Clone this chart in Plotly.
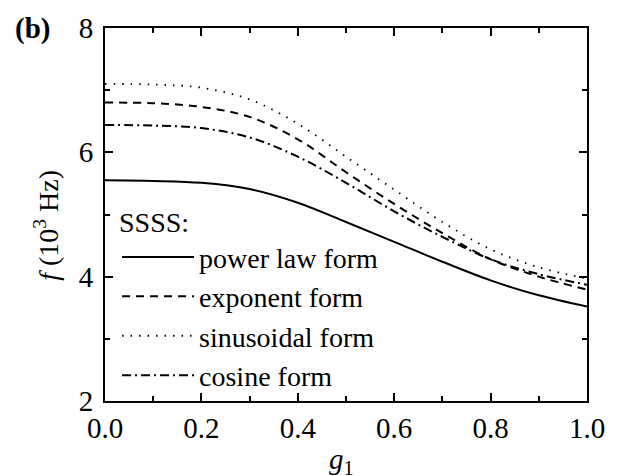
import plotly.graph_objects as go

g1 = [0.0, 0.1, 0.2, 0.3, 0.4, 0.5, 0.6, 0.7, 0.8, 0.9, 1.0]
power_law = [5.55, 5.54, 5.51, 5.41, 5.19, 4.88, 4.56, 4.24, 3.94, 3.70, 3.52]
exponent = [6.80, 6.79, 6.73, 6.57, 6.21, 5.68, 5.17, 4.70, 4.28, 4.00, 3.79]
sinusoidal = [7.10, 7.09, 7.04, 6.85, 6.46, 5.93, 5.40, 4.88, 4.44, 4.15, 3.97]
cosine = [6.44, 6.43, 6.39, 6.24, 5.93, 5.51, 5.05, 4.64, 4.28, 4.04, 3.87]

series = [
    ("power law form", power_law, "solid", 2),
    ("exponent form", exponent, "8px,6px", 2),
    ("sinusoidal form", sinusoidal, "1.5px,7px", 1.8),
    ("cosine form", cosine, "9px,4px,2px,4px", 2),
]

FONT = "Times New Roman, Liberation Serif, DejaVu Serif, serif"
fig = go.Figure()
for name, ys, dash, w in series:
    fig.add_trace(go.Scatter(x=g1, y=ys, mode="lines", name=name,
                             line=dict(color="black", width=w, dash=dash, shape="spline", smoothing=1.0)))

axis_common = dict(showline=True, linecolor="black", linewidth=2, mirror="ticks",
                   ticks="inside", ticklen=8, tickwidth=1.5, tickcolor="black",
                   showgrid=False, zeroline=False,
                   tickfont=dict(family=FONT, size=29, color="black"))

fig.update_xaxes(range=[0, 1], dtick=0.2, tickformat=".1f",
                 minor=dict(dtick=0.1, ticks="inside", ticklen=5, tickwidth=1.5, tickcolor="black"),
                 **axis_common)
fig.update_yaxes(range=[2, 8], dtick=2, ticklabelstandoff=4,
                 minor=dict(dtick=1, ticks="inside", ticklen=5, tickwidth=1.5, tickcolor="black"),
                 **axis_common)

fig.update_layout(
    width=635, height=476,
    margin=dict(l=105, r=48, t=20, b=75),
    paper_bgcolor="white", plot_bgcolor="white",
    font=dict(family=FONT, size=29, color="black"),
    showlegend=True,
    legend=dict(x=0.025, y=0.55, xanchor="left", yanchor="top",
                bgcolor="rgba(0,0,0,0)", borderwidth=0,
                title=dict(text="SSSS:", font=dict(family=FONT, size=28)),
                font=dict(family=FONT, size=28), itemwidth=72, tracegroupgap=0),
    annotations=[
        dict(text="<b>(b)</b>", xref="paper", yref="paper", x=-0.19, y=1.0,
             xanchor="left", yanchor="middle", showarrow=False,
             font=dict(family=FONT, size=29)),
        dict(text="<i>f</i> (10<sup>3</sup> Hz)", xref="paper", yref="paper",
             x=-0.12, y=0.47, textangle=-90, showarrow=False, xanchor="center", yanchor="middle",
             font=dict(family=FONT, size=28)),
        dict(text="<i>g</i><sub>1</sub>", xref="paper", yref="paper",
             x=0.49, y=-0.108, showarrow=False, xanchor="center", yanchor="top",
             font=dict(family=FONT, size=29)),
    ],
)

fig.write_html("out.html")
